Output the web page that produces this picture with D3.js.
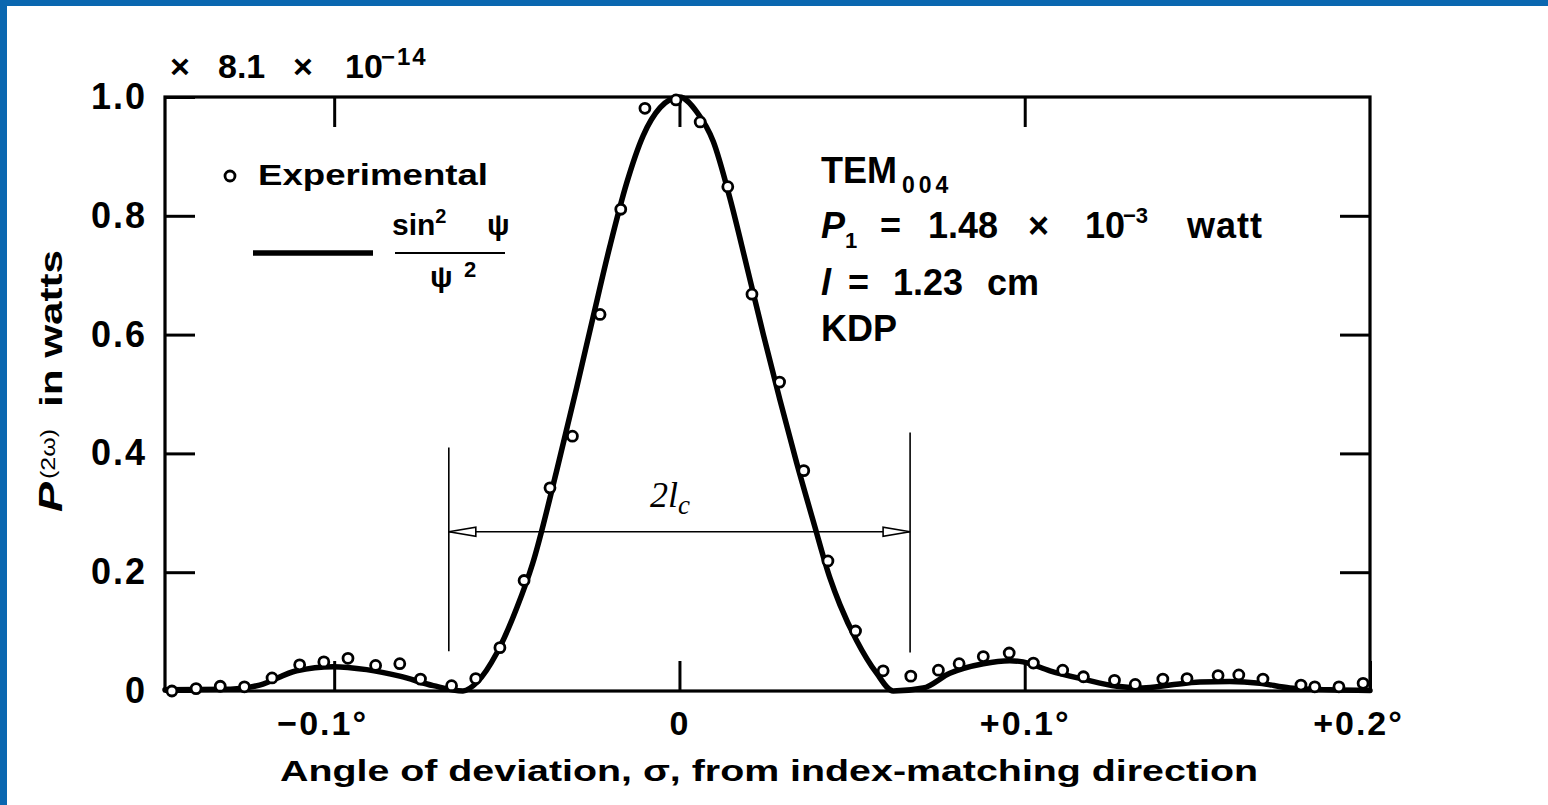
<!DOCTYPE html>
<html>
<head>
<meta charset="utf-8">
<script src="https://cdn.jsdelivr.net/npm/d3@7"></script>
<style>
  html, body { margin: 0; padding: 0; background: #fff; }
  svg { display: block; }
  text { fill: #000; }
</style>
</head>
<body>
<svg id="chart" width="1548" height="805"></svg>
<script>
// measured points (angle in degrees, power relative to 8.1e-14 W)
const expAngle = [-0.147, -0.140, -0.133, -0.126, -0.118, -0.110, -0.103, -0.096, -0.088, -0.081,
  -0.075, -0.066, -0.059, -0.052, -0.045, -0.0375, -0.031, -0.023, -0.017, -0.010,
  -0.001, 0.006, 0.014, 0.021, 0.029, 0.036, 0.043, 0.051, 0.059, 0.067,
  0.075, 0.081, 0.088, 0.0955, 0.1025, 0.111, 0.117, 0.126, 0.132, 0.140,
  0.147, 0.156, 0.162, 0.169, 0.180, 0.184, 0.191, 0.198];
const expPower = [0.0, 0.004, 0.008, 0.007, 0.022, 0.044, 0.049, 0.055, 0.043, 0.046,
  0.020, 0.009, 0.021, 0.073, 0.186, 0.342, 0.429, 0.634, 0.811, 0.981,
  0.995, 0.958, 0.849, 0.668, 0.520, 0.371, 0.219, 0.101, 0.034, 0.025,
  0.035, 0.046, 0.058, 0.064, 0.047, 0.035, 0.024, 0.018, 0.011, 0.020,
  0.021, 0.026, 0.027, 0.020, 0.010, 0.007, 0.007, 0.013];

// sin^2(psi)/psi^2 curve
const fitAngle = [-0.149, -0.130, -0.1216, -0.1109, -0.1003, -0.0906, -0.081, -0.0713, -0.0627, -0.0586,
  -0.0529, -0.0471, -0.0425, -0.0356, -0.0298, -0.025, -0.0201, -0.0153, -0.0105, -0.0056,
  0.0, 0.005, 0.0098, 0.0146, 0.0195, 0.0243, 0.0291, 0.0339, 0.0388, 0.0436,
  0.0465, 0.0513, 0.0571, 0.0619, 0.0706, 0.0783, 0.088, 0.0957, 0.0995, 0.1073,
  0.1169, 0.1267, 0.1342, 0.1421, 0.1508, 0.1594, 0.1681, 0.1768, 0.1884, 0.2];
const fitPower = [0.002, 0.003, 0.010, 0.034, 0.041, 0.036, 0.025, 0.009, 0.0, 0.015,
  0.064, 0.140, 0.215, 0.370, 0.510, 0.630, 0.750, 0.855, 0.935, 0.982,
  1.0, 0.975, 0.925, 0.830, 0.715, 0.600, 0.490, 0.385, 0.285, 0.190,
  0.145, 0.085, 0.030, 0.0, 0.005, 0.030, 0.046, 0.051, 0.049, 0.034,
  0.020, 0.008, 0.005, 0.010, 0.015, 0.016, 0.013, 0.005, 0.002, 0.001];

const xTicks = [-0.1, 0, 0.1, 0.2];
const xTickLabels = ["\u22120.1\u00b0", "0", "+0.1\u00b0", "+0.2\u00b0"];
const yTicks = [0, 0.2, 0.4, 0.6, 0.8, 1.0];
const lcHalf = 0.0668; // half of 2l_c, in degrees

const width = 1548;
const height = 805;
const sans = "'Liberation Sans', Arial, sans-serif";
const svg = d3.select("#chart")
  .style("font-family", sans).style("font-weight", "bold");

// blue page border
svg.append("rect").attr("x", 0).attr("y", 0).attr("width", 7).attr("height", height).attr("fill", "#0a67b0");
svg.append("rect").attr("x", 0).attr("y", 0).attr("width", width).attr("height", 6).attr("fill", "#0a67b0");

const x = d3.scaleLinear().domain([-0.149, 0.2]).range([165, 1370]);
const y = d3.scaleLinear().domain([0, 1]).range([691, 97]);

function styleAxis(g, size) {
  g.attr("font-family", null).attr("font-size", size);
  g.select(".domain").remove();
  g.selectAll(".tick line").attr("stroke", "#000").attr("stroke-width", 3);
  g.selectAll(".tick text").attr("fill", "#000").attr("letter-spacing", 2);
}

svg.append("g").attr("transform", `translate(0,${y(0)})`)
  .call(d3.axisBottom(x).tickValues(xTicks).tickSize(-30).tickPadding(20)
    .tickFormat((d, i) => xTickLabels[i]))
  .call(g => styleAxis(g, 34))
  .call(g => g.selectAll(".tick text").attr("dx", d => d === 0 || d === 0.1 ? 0 : -12));

svg.append("g").attr("transform", `translate(0,${y(1)})`)
  .call(d3.axisTop(x).tickValues([-0.1, 0, 0.1]).tickSize(-30).tickFormat(""))
  .call(g => styleAxis(g, 34));

svg.append("g").attr("transform", `translate(${x(-0.149)},0)`)
  .call(d3.axisLeft(y).tickValues(yTicks).tickSize(-30).tickPadding(18)
    .tickFormat(d => d === 0 ? "0" : d.toFixed(1)))
  .call(g => styleAxis(g, 36));

svg.append("g").attr("transform", `translate(${x(0.2)},0)`)
  .call(d3.axisRight(y).tickValues([0.2, 0.4, 0.6, 0.8]).tickSize(-30).tickFormat(""))
  .call(g => styleAxis(g, 36));

// frame
svg.append("rect")
  .attr("x", x(-0.149)).attr("y", y(1))
  .attr("width", x(0.2) - x(-0.149)).attr("height", y(0) - y(1))
  .attr("fill", "none").attr("stroke", "#000").attr("stroke-width", 3.2);

// 2l_c markers
const yArrow = y(0.268);
svg.append("line").attr("x1", x(-lcHalf)).attr("x2", x(-lcHalf)).attr("y1", y(0.41)).attr("y2", y(0.067))
  .attr("stroke", "#000").attr("stroke-width", 1.6);
svg.append("line").attr("x1", x(lcHalf)).attr("x2", x(lcHalf)).attr("y1", y(0.435)).attr("y2", y(0.065))
  .attr("stroke", "#000").attr("stroke-width", 1.6);
svg.append("line").attr("x1", x(-lcHalf)).attr("x2", x(lcHalf)).attr("y1", yArrow).attr("y2", yArrow)
  .attr("stroke", "#000").attr("stroke-width", 1.6);
[[x(-lcHalf), 1], [x(lcHalf), -1]].forEach(([tipX, dir]) => {
  svg.append("path")
    .attr("d", `M${tipX},${yArrow}L${tipX + dir * 27},${yArrow - 4.5}L${tipX + dir * 27},${yArrow + 4.5}Z`)
    .attr("fill", "#fff").attr("stroke", "#000").attr("stroke-width", 1.6);
});
const lcText = svg.append("text").attr("x", 650).attr("y", 507)
  .style("font-family", "'Liberation Serif', 'Times New Roman', serif")
  .style("font-style", "italic").style("font-weight", "normal").attr("font-size", 36);
lcText.append("tspan").text("2l");
lcText.append("tspan").attr("dy", 7).attr("font-size", 27).text("c");

// theory curve
const fitData = fitAngle.map((a, i) => [a, fitPower[i]]);
svg.append("path")
  .datum(fitData)
  .attr("fill", "none").attr("stroke", "#000").attr("stroke-width", 5.5)
  .attr("stroke-linejoin", "round").attr("stroke-linecap", "round")
  .attr("d", d3.line().x(d => x(d[0])).y(d => y(d[1])).curve(d3.curveMonotoneX));

// experimental points
svg.append("g").selectAll("circle")
  .data(expAngle.map((a, i) => [a, expPower[i]]))
  .join("circle")
  .attr("cx", d => x(d[0])).attr("cy", d => y(d[1])).attr("r", 5)
  .attr("fill", "#fff").attr("stroke", "#000").attr("stroke-width", 2.8);

// scale factor above the frame
const title = svg.append("text").attr("y", 78).attr("font-size", 34);
title.append("tspan").attr("x", 170).text("\u00d7");
title.append("tspan").attr("x", 218).text("8.1");
title.append("tspan").attr("x", 293).text("\u00d7");
title.append("tspan").attr("x", 345).text("10");
title.append("tspan").attr("x", 381).attr("dy", -13).attr("font-size", 24).attr("letter-spacing", 2).text("\u221214");

// legend
svg.append("circle").attr("cx", 230).attr("cy", 176).attr("r", 5)
  .attr("fill", "#fff").attr("stroke", "#000").attr("stroke-width", 2.8);
svg.append("text").attr("x", 258).attr("y", 185).attr("font-size", 30)
  .attr("textLength", 230).attr("lengthAdjust", "spacingAndGlyphs").text("Experimental");
svg.append("line").attr("x1", 253).attr("x2", 373).attr("y1", 253).attr("y2", 253)
  .attr("stroke", "#000").attr("stroke-width", 5.5);
const num = svg.append("text").attr("y", 235).attr("font-size", 30);
num.append("tspan").attr("x", 392).text("sin");
num.append("tspan").attr("dy", -12).attr("font-size", 20).text("2");
num.append("tspan").attr("x", 487).attr("dy", 12).text("\u03c8");
svg.append("line").attr("x1", 395).attr("x2", 505).attr("y1", 253).attr("y2", 253)
  .attr("stroke", "#000").attr("stroke-width", 2);
const den = svg.append("text").attr("y", 287).attr("font-size", 30);
den.append("tspan").attr("x", 430).text("\u03c8");
den.append("tspan").attr("x", 464).attr("dy", -10).attr("font-size", 22).text("2");

// experiment conditions
const info = svg.append("g").attr("font-size", 36);
const tem = info.append("text").attr("x", 821).attr("y", 183);
tem.append("tspan").text("TEM");
tem.append("tspan").attr("x", 902).attr("dy", 10).attr("font-size", 23).attr("letter-spacing", 4).text("004");

const p1 = info.append("text").attr("y", 238);
p1.append("tspan").attr("x", 821).style("font-style", "italic").text("P");
p1.append("tspan").attr("x", 845).attr("dy", 10).attr("font-size", 22).text("1");
p1.append("tspan").attr("x", 880).attr("dy", -10).text("=");
p1.append("tspan").attr("x", 928).text("1.48");
p1.append("tspan").attr("x", 1028).text("\u00d7");
p1.append("tspan").attr("x", 1085).text("10");
p1.append("tspan").attr("x", 1123).attr("dy", -15).attr("font-size", 22).text("\u22123");
p1.append("tspan").attr("x", 1187).attr("dy", 15).attr("letter-spacing", 1).text("watt");

const len = info.append("text").attr("y", 295);
len.append("tspan").attr("x", 821).style("font-style", "italic").text("l");
len.append("tspan").attr("x", 848).text("=");
len.append("tspan").attr("x", 893).text("1.23");
len.append("tspan").attr("x", 987).text("cm");

info.append("text").attr("x", 821).attr("y", 341).text("KDP");

// axis titles
svg.append("text").attr("x", 280).attr("y", 781).attr("font-size", 30)
  .attr("textLength", 978).attr("lengthAdjust", "spacingAndGlyphs")
  .text("Angle of deviation, \u03c3, from index-matching direction");

svg.append("text").attr("transform", "translate(62,512) rotate(-90)").attr("font-size", 34)
  .style("font-style", "italic").attr("textLength", 30).attr("lengthAdjust", "spacingAndGlyphs").text("P");
svg.append("text").attr("transform", "translate(55,479) rotate(-90)").attr("font-size", 20)
  .style("font-weight", "normal").attr("textLength", 50).attr("lengthAdjust", "spacingAndGlyphs").text("(2\u03c9)");
svg.append("text").attr("transform", "translate(62,407) rotate(-90)").attr("font-size", 32)
  .attr("textLength", 157).attr("lengthAdjust", "spacingAndGlyphs").text("in watts");
</script>
</body>
</html>
